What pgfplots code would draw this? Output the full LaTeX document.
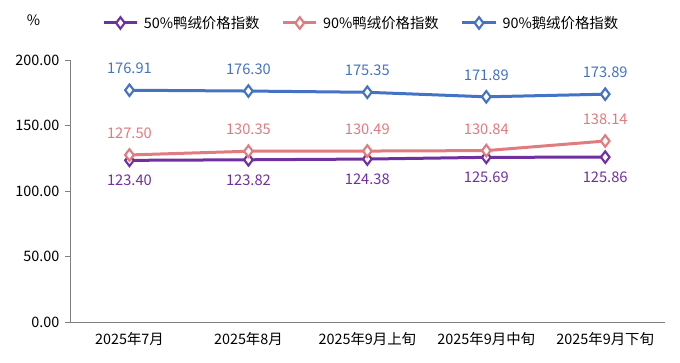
\documentclass[border=0pt]{standalone}
\usepackage{pgfplots}
\pgfplotsset{compat=1.18}
\usepackage{fontspec}
\setmainfont{Noto Sans CJK SC}
\definecolor{cpur}{HTML}{7030A0}
\definecolor{cpink}{HTML}{E07B7F}
\definecolor{cblue}{HTML}{4472C4}
\definecolor{cax}{HTML}{808080}
\begin{document}
\begin{tikzpicture}[x=1pt,y=1pt]
\useasboundingbox (0,0) rectangle (510,272.25);
\node[anchor=base west,font=\fontsize{10.8}{12}\selectfont,inner sep=0pt] at (20,253) {\%};
\begin{axis}[
  at={(52.5pt,30.75pt)}, anchor=south west,
  scale only axis, width=446pt, height=196.5pt,
  xmin=-0.5, xmax=4.5, ymin=0, ymax=200,
  axis x line=bottom, axis y line=left,
  axis line style={cax, line width=0.7pt, -},
  xtick={0,1,2,3,4},
  xticklabels={2025年7月,2025年8月,2025年9月上旬,2025年9月中旬,2025年9月下旬},
  major x tick style={draw=none},
  extra x ticks={-0.5,0.5,1.5,2.5,3.5,4.5},
  extra x tick labels={},
  extra x tick style={tick style={cax, line width=0.7pt}, tick align=outside, major tick length=3.5pt},
  ytick={0,50,100,150,200},
  y tick style={cax, line width=0.7pt},
  tick align=outside, major tick length=3.5pt,
  yticklabel style={/pgf/number format/fixed, /pgf/number format/fixed zerofill, /pgf/number format/precision=2, /pgf/number format/assume math mode=true, xshift=-1pt},
  ticklabel style={font=\fontsize{10.8}{12}\selectfont, text=black},
  xticklabel style={yshift=-1pt},
  clip=false,
  every node near coord/.append style={font=\fontsize{11}{12}\selectfont, /pgf/number format/fixed, /pgf/number format/fixed zerofill, /pgf/number format/precision=2, /pgf/number format/assume math mode=true},
  legend columns=3,
  legend style={at={(21pt,224.25pt)}, anchor=west, draw=none, fill=none,
    font=\fontsize{10.8}{12}\selectfont,
    /tikz/every odd column/.append style={column sep=2pt},
    /tikz/every even column/.append style={column sep=14.5pt}},
  legend cell align=left,
  legend image code/.code={
    \draw[#1, line width=2.25pt] (0pt,0pt) -- (25pt,0pt);
    \draw[mark repeat=2, mark phase=2, #1] plot coordinates {(0pt,0pt) (12.5pt,0pt) (25pt,0pt)};
  },
]
\addplot[cpur, line width=2.25pt, mark=diamond*, mark size=4.3pt, mark options={fill=white, line width=1.6pt},
  nodes near coords, nodes near coords style={text=cpur, anchor=north, yshift=-7pt}]
  coordinates {(0,123.40) (1,123.82) (2,124.38) (3,125.69) (4,125.86)};
\addlegendentry{50\%鸭绒价格指数}
\addplot[cpink, line width=2.25pt, mark=diamond*, mark size=4.3pt, mark options={fill=white, line width=1.6pt},
  nodes near coords, nodes near coords style={text=cpink, anchor=south, yshift=8pt}]
  coordinates {(0,127.50) (1,130.35) (2,130.49) (3,130.84) (4,138.14)};
\addlegendentry{90\%鸭绒价格指数}
\addplot[cblue, line width=2.25pt, mark=diamond*, mark size=4.3pt, mark options={fill=white, line width=1.6pt},
  nodes near coords, nodes near coords style={text=cblue, anchor=south, yshift=8pt}]
  coordinates {(0,176.91) (1,176.30) (2,175.35) (3,171.89) (4,173.89)};
\addlegendentry{90\%鹅绒价格指数}
\end{axis}
\end{tikzpicture}
\end{document}
